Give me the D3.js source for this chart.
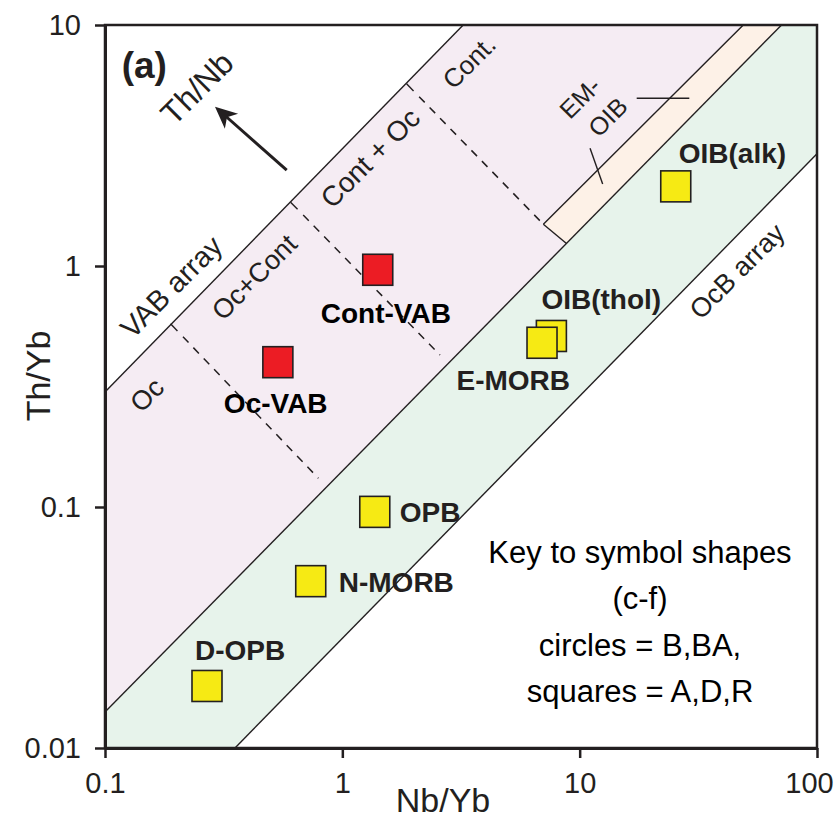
<!DOCTYPE html>
<html>
<head>
<meta charset="utf-8">
<script src="https://cdn.jsdelivr.net/npm/d3@7"></script>
<style>
  body { margin: 0; background: #fff; }
  svg text { font-family: "Liberation Sans", Arial, Helvetica, sans-serif; fill: #231f20; }
</style>
</head>
<body>
<div id="chart"></div>
<script>
// reference samples (Nb/Yb, Th/Yb)
var sampleNames = ["OIB(thol)", "E-MORB", "OIB(alk)", "OPB", "N-MORB", "D-OPB", "Oc-VAB", "Cont-VAB"],
  sampleNbYb = [7.6, 6.94, 25.4, 1.37, 0.736, 0.269, 0.535, 1.41],
  sampleThYb = [0.51, 0.478, 2.13, 0.095, 0.049, 0.018, 0.397, 0.96],
  sampleGroup = ["ocean", "ocean", "ocean", "ocean", "ocean", "ocean", "arc", "arc"];

var xTicks = [0.1, 1, 10, 100],
  yTicks = [0.01, 0.1, 1, 10];

// field boundaries, [Nb/Yb, Th/Yb] pairs
var vabUpper = [[0.1, 0.30], [3.23, 10]],
  morbUpper = [[0.1, 0.0141], [70.9, 10]],
  emoibUpper = [[7.03, 1.49], [48.9, 10]],
  emoibEnd = [[7.03, 1.49], [8.8, 1.24]],
  morbLower = [[0.353, 0.01], [100, 2.92]];

var dividers = [
  [[0.194, 0.56], [0.793, 0.1315]],
  [[0.622, 1.79], [2.58, 0.427]],
  [[1.916, 5.55], [7.03, 1.49]]
];

var pinkField = [[0.1, 0.30], [0.1, 0.0141], [8.8, 1.24], [7.03, 1.49], [48.9, 10], [3.23, 10]],
  peachField = [[7.03, 1.49], [48.9, 10], [70.9, 10], [8.8, 1.24]],
  greenField = [[0.1, 0.0141], [0.1, 0.01], [0.353, 0.01], [100, 2.92], [100, 10], [70.9, 10]];

// rotated field labels
var fieldNames = ["VAB array", "Oc+Cont", "Oc", "Cont + Oc", "Cont.", "EM-", "OIB", "OcB array"],
  fieldNbYb = [0.19, 0.425, 0.150, 1.31, 3.42, 10.03, 13.15, 46.0],
  fieldThYb = [0.82, 0.90, 0.292, 2.81, 7.02, 4.98, 4.15, 0.953];
var fieldFont = [29, 27, 27, 28, 26, 25, 25, 27];

var keyLines = ["Key to symbol shapes", "(c-f)", "circles = B,BA,", "squares = A,D,R"];

var margin = { top: 25, right: 18, bottom: 72, left: 105 },
  svg_dx = 835,
  svg_dy = 820;

var xScale = d3.scaleLog().domain([0.1, 100]).range([margin.left, svg_dx - margin.right]);
var yScale = d3.scaleLog().domain([0.01, 10]).range([svg_dy - margin.bottom, margin.top]);

// label placement (px offsets from marker centre)
var labelOffset = {
  "OIB(thol)": [-10, -27, "start"],
  "E-MORB": [28, 47, "end"],
  "OIB(alk)": [3, -24, "start"],
  "OPB": [25, 10, "start"],
  "N-MORB": [28, 10, "start"],
  "D-OPB": [-12, -26, "start"],
  "Oc-VAB": [-54, 50, "start"],
  "Cont-VAB": [-57, 53, "start"]
};

var svg = d3.select("#chart")
  .append("svg")
  .attr("width", svg_dx)
  .attr("height", svg_dy);

var line = d3.line()
  .x(function(d) { return xScale(d[0]); })
  .y(function(d) { return yScale(d[1]); });

function poly(pts) {
  return line(pts) + "Z";
}

// filled fields
svg.append("path").attr("d", poly(pinkField)).attr("fill", "#f5ecf3");
svg.append("path").attr("d", poly(peachField)).attr("fill", "#fdf1e7");
svg.append("path").attr("d", poly(greenField)).attr("fill", "#e7f3eb");

// boundaries
[vabUpper, morbUpper, emoibUpper, emoibEnd, morbLower].forEach(function(seg) {
  svg.append("path")
    .attr("d", line(seg))
    .attr("fill", "none")
    .attr("stroke", "#231f20")
    .attr("stroke-width", 1.4);
});

dividers.forEach(function(seg) {
  var p0 = [xScale(seg[0][0]), yScale(seg[0][1])],
    p1 = [xScale(seg[1][0]), yScale(seg[1][1])];
  var len = Math.hypot(p1[0] - p0[0], p1[1] - p0[1]),
    ux = (p1[0] - p0[0]) / len,
    uy = (p1[1] - p0[1]) / len;
  // little tick across the array edge
  svg.append("line")
    .attr("x1", p0[0] - ux * 4).attr("y1", p0[1] - uy * 4)
    .attr("x2", p0[0] + ux * 6).attr("y2", p0[1] + uy * 6)
    .attr("stroke", "#231f20").attr("stroke-width", 1.4);
  svg.append("line")
    .attr("x1", p0[0] + ux * 14).attr("y1", p0[1] + uy * 14)
    .attr("x2", p1[0]).attr("y2", p1[1])
    .attr("stroke", "#231f20")
    .attr("stroke-width", 1.5)
    .attr("stroke-dasharray", "8,7");
});

// EM-OIB leader marks
svg.append("line")
  .attr("x1", xScale(17.39)).attr("y1", yScale(4.97))
  .attr("x2", xScale(28.97)).attr("y2", yScale(4.97))
  .attr("stroke", "#231f20").attr("stroke-width", 1.4);
svg.append("line")
  .attr("x1", xScale(11.06)).attr("y1", yScale(3.08))
  .attr("x2", xScale(12.5)).attr("y2", yScale(2.19))
  .attr("stroke", "#231f20").attr("stroke-width", 1.4);

// field labels
svg.append("g")
  .selectAll("text")
  .data(fieldNames)
  .enter()
  .append("text")
  .attr("transform", function(d, i) {
    return "translate(" + xScale(fieldNbYb[i]) + "," + yScale(fieldThYb[i]) + ") rotate(-45)";
  })
  .attr("text-anchor", "middle")
  .attr("dy", "0.35em")
  .style("font-size", function(d, i) { return fieldFont[i] + "px"; })
  .text(function(d) { return d; });

// Th/Nb arrow
var a0 = [xScale(0.583), yScale(2.50)],
  a1 = [xScale(0.2907), yScale(4.58)];
var alen = Math.hypot(a1[0] - a0[0], a1[1] - a0[1]),
  ax = (a1[0] - a0[0]) / alen,
  ay = (a1[1] - a0[1]) / alen;
svg.append("line")
  .attr("x1", a0[0]).attr("y1", a0[1])
  .attr("x2", a1[0] - ax * 14).attr("y2", a1[1] - ay * 14)
  .attr("stroke", "#231f20").attr("stroke-width", 3);
svg.append("path")
  .attr("d", "M" + a1[0] + "," + a1[1] +
    "L" + (a1[0] - ax * 22 - ay * 10) + "," + (a1[1] - ay * 22 + ax * 10) +
    "L" + (a1[0] - ax * 16) + "," + (a1[1] - ay * 16) +
    "L" + (a1[0] - ax * 22 + ay * 10) + "," + (a1[1] - ay * 22 - ax * 10) + "Z")
  .attr("fill", "#231f20");

svg.append("text")
  .attr("transform", "translate(" + xScale(0.244) + "," + yScale(5.48) + ") rotate(-45)")
  .attr("text-anchor", "middle")
  .attr("dy", "0.35em")
  .style("font-size", "32px")
  .text("Th/Nb");

svg.append("text")
  .attr("x", xScale(0.1176))
  .attr("y", yScale(6.03))
  .style("font-size", "37px")
  .style("font-weight", "bold")
  .text("(a)");

// samples
var pts = svg.append("g")
  .selectAll("g")
  .data(sampleNames)
  .enter()
  .append("g")
  .attr("transform", function(d, i) {
    return "translate(" + xScale(sampleNbYb[i]) + "," + yScale(sampleThYb[i]) + ")";
  });

pts.append("rect")
  .attr("x", -15).attr("y", -16)
  .attr("width", 30).attr("height", 31)
  .attr("fill", function(d, i) { return sampleGroup[i] == "arc" ? "#ec1c24" : "#f6ea14"; })
  .attr("stroke", "#231f20")
  .attr("stroke-width", 1.6);

pts.append("text")
  .attr("x", function(d) { return labelOffset[d][0]; })
  .attr("y", function(d) { return labelOffset[d][1]; })
  .attr("text-anchor", function(d) { return labelOffset[d][2]; })
  .style("font-size", "28px")
  .style("font-weight", "bold")
  .style("fill", function(d, i) { return sampleGroup[i] == "arc" ? "#000" : "#231f20"; })
  .text(function(d) { return d; });

// key
svg.append("g")
  .selectAll("text")
  .data(keyLines)
  .enter()
  .append("text")
  .attr("x", 640)
  .attr("y", function(d, i) { return 563 + i * 46.3; })
  .attr("text-anchor", "middle")
  .style("font-size", "31px")
  .style("fill", "#000")
  .text(function(d) { return d; });

// frame
svg.append("rect")
  .attr("x", margin.left)
  .attr("y", margin.top)
  .attr("width", svg_dx - margin.right - margin.left)
  .attr("height", svg_dy - margin.bottom - margin.top)
  .attr("fill", "none")
  .attr("stroke", "#231f20")
  .attr("stroke-width", 2.5);

var fmt = d3.format("~g");
var axis_x = d3.axisBottom(xScale).tickValues(xTicks).tickFormat(fmt).tickSize(10).tickSizeOuter(0).tickPadding(14);
var axis_y = d3.axisLeft(yScale).tickValues(yTicks).tickFormat(fmt).tickSize(10).tickSizeOuter(0).tickPadding(14);

var gx = svg.append("g")
  .attr("transform", "translate(0," + (svg_dy - margin.bottom) + ")")
  .call(axis_x);
var gy = svg.append("g")
  .attr("transform", "translate(" + margin.left + ",0)")
  .call(axis_y);

[gx, gy].forEach(function(g) {
  g.select(".domain").attr("stroke", "#231f20").attr("stroke-width", 3);
  g.selectAll(".tick line").attr("stroke", "#231f20").attr("stroke-width", 2.5);
  g.selectAll(".tick text")
    .style("font-size", "29px")
    .style("font-family", "'Liberation Sans', Arial, sans-serif")
    .attr("fill", "#231f20");
});
// keep the last x label inside the page
gx.selectAll(".tick text").filter(function(d) { return d == 100; }).attr("dx", -8);

svg.append("text")
  .attr("x", 443)
  .attr("y", 812)
  .attr("text-anchor", "middle")
  .style("font-size", "34px")
  .text("Nb/Yb");

svg.append("text")
  .attr("transform", "translate(50,376) rotate(-90)")
  .attr("text-anchor", "middle")
  .style("font-size", "34px")
  .text("Th/Yb");
</script>
</body>
</html>
